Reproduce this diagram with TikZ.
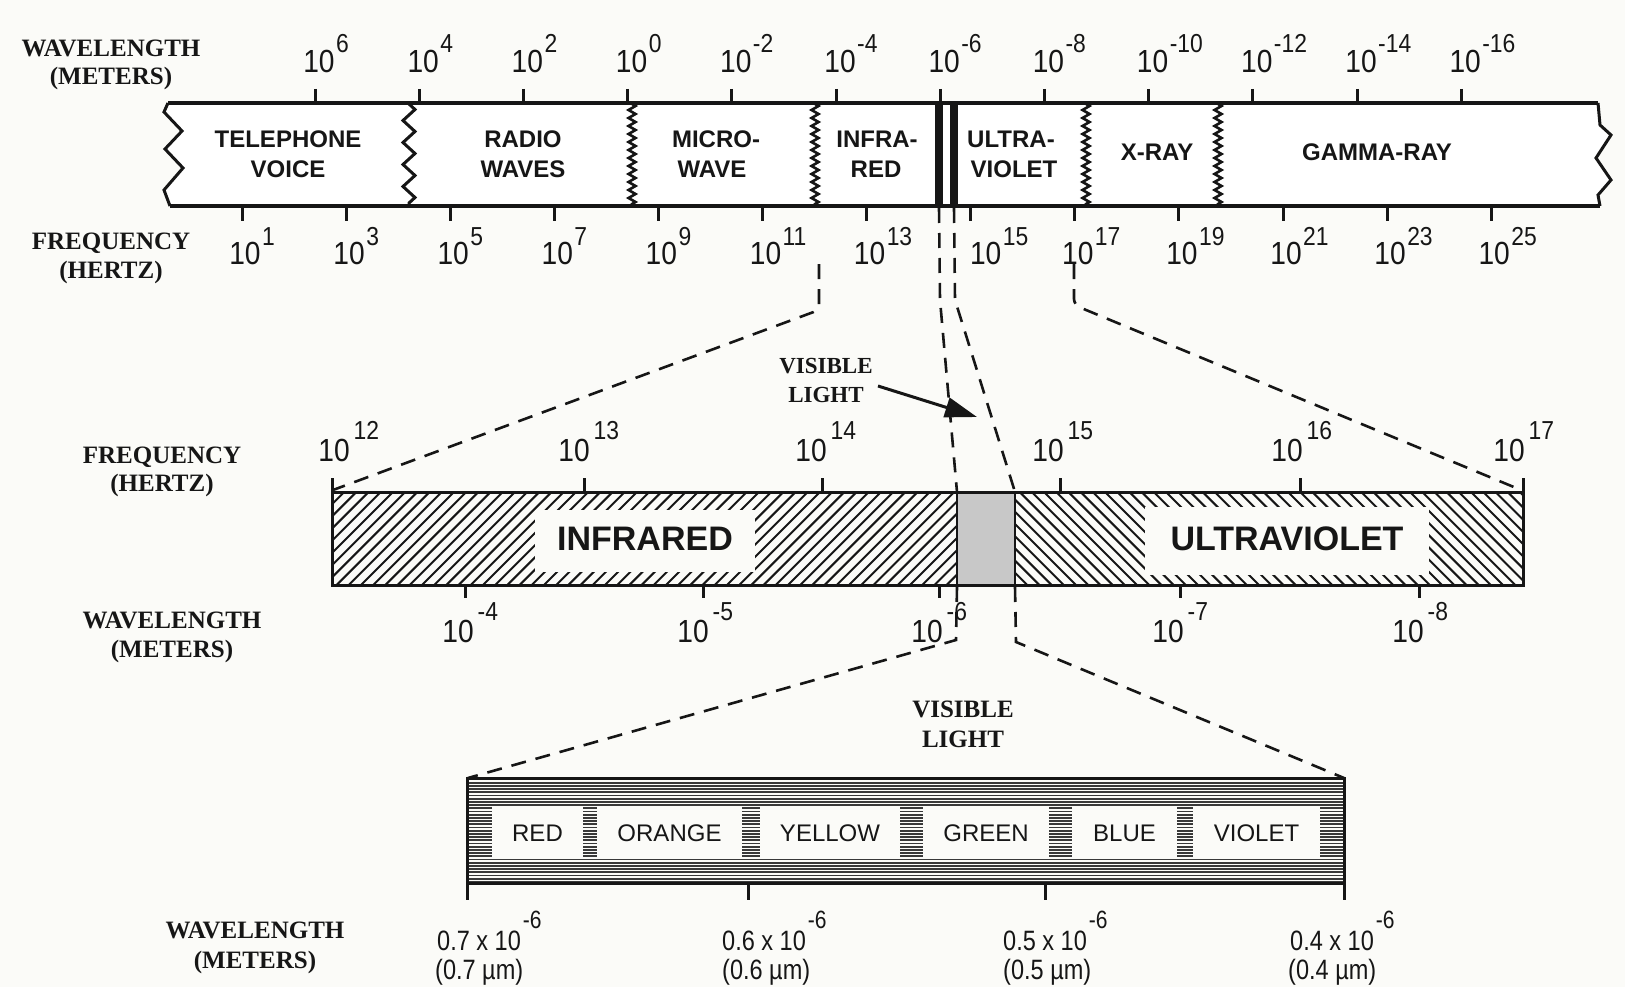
\documentclass[tikz,border=0pt]{standalone}
\usepackage{fontspec}
\setmainfont{Liberation Sans}
\newfontfamily\lblserif{Liberation Serif}
\newfontfamily\numsf{Liberation Sans}[FakeStretch=0.88]
\newfontfamily\narrowsf{Liberation Sans}[FakeStretch=0.84]
\usetikzlibrary{decorations.pathmorphing,arrows.meta}
\definecolor{bg}{RGB}{251,251,248}
\definecolor{ink}{RGB}{22,22,22}
\definecolor{vis}{RGB}{200,200,200}
\newcommand{\pw}[1]{10\rlap{\kern1.5pt\raisebox{20pt}{\fontsize{26}{26}\selectfont #1}}}
\newcommand{\pwm}[1]{10\rlap{\kern4pt\raisebox{22pt}{\fontsize{26}{26}\selectfont #1}}}
\newcommand{\pwb}[1]{\rlap{\kern2pt\raisebox{22pt}{\fontsize{25}{25}\selectfont #1}}}
\tikzset{
 axlbl/.style={font=\lblserif\bfseries\fontsize{25}{25}\selectfont, anchor=base, inner sep=0pt, text=ink},
 num/.style={font=\numsf\fontsize{32}{32}\selectfont, anchor=base, inner sep=0pt, text=ink},
 band/.style={font=\bfseries\fontsize{24}{24}\selectfont, anchor=base, inner sep=0pt, text=ink},
 bigband/.style={font=\bfseries\fontsize{34}{34}\selectfont, anchor=base, inner sep=0pt, text=ink},
 colname/.style={font=\fontsize{24}{24}\selectfont, anchor=base, inner sep=0pt, text=ink},
 bnum/.style={font=\narrowsf\fontsize{28}{28}\selectfont, anchor=base west, inner sep=0pt, text=ink},
 tickln/.style={line width=3pt, draw=ink},
 zz/.style={line width=3pt, draw=ink, decorate, decoration={zigzag, amplitude=6pt, segment length=22pt}},
 fz/.style={line width=2.6pt, draw=ink, decorate, decoration={zigzag, amplitude=3.5pt, segment length=8pt}},
 dl/.style={line width=2.6pt, draw=ink, dash pattern=on 15pt off 10pt},
 hatch/.style={line width=2pt, draw=ink},
}
\begin{document}
\begin{tikzpicture}[x=1pt,y=-1pt]
\useasboundingbox (0,0) rectangle (1625,987);
\fill[bg] (0,0) rectangle (1625,987);

% ================= TOP BAR =================
\fill[white] (168,103) -- (164,112) -- (182,131) -- (165,149) -- (183,168) -- (164,190) -- (170,206)
  -- (1600,206) -- (1598,195) -- (1611,180) -- (1596,158) -- (1611,135) -- (1600,125) -- (1598,103) -- cycle;
\draw[line width=4pt, ink, line join=round] (168,103) -- (1598,103);
\draw[line width=4pt, ink, line join=round] (170,206) -- (1600,206);
\draw[line width=3pt, ink, line join=miter] (168,103) -- (164,112) -- (182,131) -- (165,149) -- (183,168) -- (164,190) -- (170,206);
\draw[line width=3pt, ink, line join=miter] (1598,103) -- (1600,125) -- (1611,135) -- (1596,158) -- (1611,180) -- (1598,195) -- (1600,206);
\draw[zz] (409,104) -- (409,205);
\draw[fz] (632,104) -- (632,205);
\draw[fz] (815,104) -- (815,205);
\draw[fz] (1086,104) -- (1086,205);
\draw[fz] (1218,104) -- (1218,205);
\fill[ink] (935,103) rectangle (943,206);
\fill[ink] (950,103) rectangle (958,206);

% band labels
\node[band] (tel1) at (288,148) {TELEPHONE};
\node[band] (tel2) at (288,178) {VOICE};
\node[band] (rad1) at (523,148) {RADIO};
\node[band] (rad2) at (523,178) {WAVES};
\node[band] (mic1) at (716,148) {MICRO-};
\node[band] (mic2) at (712,178) {WAVE};
\node[band] (inf1) at (877,148) {INFRA-};
\node[band] (inf2) at (876,178) {RED};
\node[band] (ult1) at (1011,148) {ULTRA-};
\node[band] (ult2) at (1014,178) {VIOLET};
\node[band] (xr) at (1157,161) {X-RAY};
\node[band] (gam) at (1377,161) {GAMMA-RAY};

% wavelength ticks (top)
\foreach \e [count=\k from 0] in {6,4,2,0,-2,-4,-6,-8,-10,-12,-14,-16} {
  \pgfmathsetmacro\xx{315+104.2*\k}
  \draw[tickln] (\xx,89) -- (\xx,103);
  \node[num] (tw\k) at (\xx+4,73) {\pw{\e}};
}
% frequency ticks (top)
\foreach \e [count=\k from 0] in {1,3,5,7,9,11,13,15,17,19,21,23,25} {
  \pgfmathsetmacro\xx{242+104.1*\k}
  \draw[tickln] (\xx,206) -- (\xx,221);
  \ifnum\e=15
    \node[num] (tf\k) at (\xx+15,265) {\pw{\e}};
  \else
    \node[num] (tf\k) at (\xx+3,265) {\pw{\e}};
  \fi
}
\node[axlbl] (twl1) at (111,57) {WAVELENGTH};
\node[axlbl] (twl2) at (111,85) {(METERS)};
\node[axlbl] (tfl1) at (111,249) {FREQUENCY};
\node[axlbl] (tfl2) at (111,278) {(HERTZ)};

% ================= MIDDLE BAR =================
\begin{scope}
\clip (332,492) rectangle (957,585);
\foreach \i in {0,...,62} \draw[hatch] ({239+\i*12.2},585) -- ++(93,-93);
\end{scope}
\begin{scope}
\clip (1015,492) rectangle (1523,585);
\foreach \i in {0,...,50} \draw[hatch] ({922+\i*12.2},492) -- ++(93,93);
\end{scope}
\fill[bg] (535,510) rectangle (755,572);
\fill[bg] (1145,507) rectangle (1429,575);
\fill[vis] (957,492) rectangle (1015,585);
\draw[line width=3pt, ink] (332,492) rectangle (1523,585);
\draw[line width=2.5pt, ink] (957,492) -- (957,585);
\draw[line width=2.5pt, ink] (1015,492) -- (1015,585);
\node[bigband] (ir) at (645,550) {INFRARED};
\node[bigband] (uv) at (1287,550) {ULTRAVIOLET};

\foreach \t/\e/\l [count=\k] in {332/12/334, 584/13/574, 822/14/811, 1060/15/1048, 1300/16/1287, 1523/17/1509} {
  \draw[tickln] (\t,478) -- (\t,492);
  \node[num] (mf\k) at (\l,461) {\pwm{\e}};
}
\foreach \t/\e/\l [count=\k] in {465/-4/458, 703/-5/693, 939/-6/927, 1180/-7/1168, 1419/-8/1408} {
  \draw[tickln] (\t,585) -- (\t,598);
  \node[num] (mw\k) at (\l,642) {\pwm{\e}};
}
\node[axlbl] (mfl1) at (162,463) {FREQUENCY};
\node[axlbl] (mfl2) at (162,491) {(HERTZ)};
\node[axlbl] (mwl1) at (172,628) {WAVELENGTH};
\node[axlbl] (mwl2) at (172,657) {(METERS)};

% visible light label + arrow
\node[axlbl, font=\lblserif\bfseries\fontsize{23}{23}\selectfont] (vl1) at (826,373) {VISIBLE};
\node[axlbl, font=\lblserif\bfseries\fontsize{23}{23}\selectfont] (vl2) at (826,402) {LIGHT};
\coordinate (arrS) at (878,386);
\coordinate (arrE) at (977,417);
\draw[line width=3pt, ink, -{Triangle[length=32pt,width=20pt]}] (arrS) -- (arrE);

% ================= BOTTOM BAR =================
\begin{scope}
\clip (467,778) rectangle (1344,883);
\foreach \y in {779.5,782.7,...,884} \draw[line width=1.9pt, ink!85] (467,\y) -- (1344,\y);
\end{scope}
\foreach \a/\b/\nm [count=\k] in {492/583/RED, 597/742/ORANGE, 760/900/YELLOW, 923/1049/GREEN, 1072/1177/BLUE, 1193/1320/VIOLET} {
  \fill[bg] (\a,806) rectangle (\b,859);
  \node[colname] (c\k) at ({(\a+\b)/2},841) {\nm};
}
\draw[line width=3pt, ink] (467,778) rectangle (1344,883);
\draw[tickln] (467,883) -- (467,900);
\draw[tickln] (748,883) -- (748,900);
\draw[tickln] (1045,883) -- (1045,900);
\draw[tickln] (1344,883) -- (1344,900);

\node[bnum] (b1a) at (437,950) {0.7 x 10\pwb{-6}};
\node[bnum] (b1b) at (435,979) {(0.7 µm)};
\node[bnum] (b2a) at (722,950) {0.6 x 10\pwb{-6}};
\node[bnum] (b2b) at (722,979) {(0.6 µm)};
\node[bnum] (b3a) at (1003,950) {0.5 x 10\pwb{-6}};
\node[bnum] (b3b) at (1003,979) {(0.5 µm)};
\node[bnum] (b4a) at (1290,950) {0.4 x 10\pwb{-6}};
\node[bnum] (b4b) at (1288,979) {(0.4 µm)};

\node[axlbl] (bwl1) at (255,938) {WAVELENGTH};
\node[axlbl] (bwl2) at (255,968) {(METERS)};
\node[axlbl] (bvl1) at (963,717) {VISIBLE};
\node[axlbl] (bvl2) at (963,747) {LIGHT};

% ================= DASHED CONNECTORS =================
\coordinate (irTop) at (819,264);
\coordinate (irBend) at (819,310);
\coordinate (irMid) at (333,490);
\coordinate (uvTop) at (1074,264);
\coordinate (uvBend) at (1074,305);
\coordinate (uvMid) at (1521,490);
\coordinate (vLtop) at (939,208);
\coordinate (vLbend) at (940,300);
\coordinate (vLmid) at (957,492);
\coordinate (vRtop) at (954,208);
\coordinate (vRbend) at (955,300);
\coordinate (vRmid) at (1015,492);
\coordinate (vLlow) at (957,587);
\coordinate (vLbend2) at (956,640);
\coordinate (bL) at (468,778);
\coordinate (vRlow) at (1015,587);
\coordinate (vRbend2) at (1016,642);
\coordinate (bR) at (1344,778);
\draw[dl, rounded corners=6pt] (irTop) -- (irBend) -- (irMid);
\draw[dl, rounded corners=6pt] (uvTop) -- (uvBend) -- (uvMid);
\draw[dl] (vLtop) -- (vLbend) -- (vLmid);
\draw[dl] (vRtop) -- (vRbend) -- (vRmid);
\draw[dl] (vLlow) -- (vLbend2) -- (bL);
\draw[dl] (vRlow) -- (vRbend2) -- (bR);
\end{tikzpicture}
\end{document}
